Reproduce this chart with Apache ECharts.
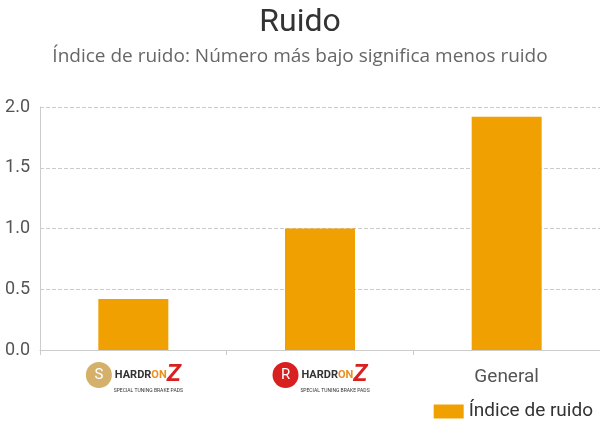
<!DOCTYPE html><html><head><meta charset="utf-8"><script src="https://cdn.jsdelivr.net/npm/echarts@6/dist/echarts.min.js"></script></head><body style="margin:0"><div id="c" style="width:600px;height:430px"></div><script>
const categories=['S','R','General'];
const values=[0.42,1.0,1.92];
const seriesName='Índice de ruido';
const title='Ruido';
const subtitle='Índice de ruido: Número más bajo significa menos ruido';
const chart=echarts.init(document.getElementById('c'));
function logo(v){
  if(v==='General')return '{gen|General}';
  const b=v==='S'?'s':'r';
  return '{'+b+'|'+v+'} {h|HARDR}{o|ON}{z|Z}\n{sp| }{sub|SPECIAL TUNING BRAKE PADS}';
}
chart.setOption({
  animation:false,
  textStyle:{fontFamily:'Roboto, sans-serif'},
  title:{text:title,subtext:subtitle,left:'center',top:2,itemGap:8,
    textStyle:{fontSize:32,fontWeight:'normal',color:'#333'},
    subtextStyle:{fontSize:19,color:'#666',fontFamily:'Open Sans'}},
  legend:{right:2,bottom:4,itemWidth:30,itemHeight:14,icon:'rect',textStyle:{fontSize:19,color:'#333'}},
  grid:{left:40,right:0,top:107,bottom:80},
  xAxis:{type:'category',data:categories,axisTick:{show:true,lineStyle:{color:'#ccc'}},
    axisLine:{lineStyle:{color:'#ccc'}},
    axisLabel:{interval:0,margin:12,formatter:logo,rich:{
      gen:{fontSize:19,color:'#555',padding:[6,0,0,0]},
      s:{backgroundColor:'#d4b06a',color:'#fff',width:26,height:26,borderRadius:13,align:'center',fontSize:15},
      r:{backgroundColor:'#d82020',color:'#fff',width:26,height:26,borderRadius:13,align:'center',fontSize:15},
      h:{fontSize:11,fontWeight:'bold',color:'#333'},
      o:{fontSize:11,fontWeight:'bold',color:'#e89020'},
      z:{fontSize:24,fontWeight:'bold',color:'#d82020',fontStyle:'italic'},
      sp:{width:30,fontSize:4},
      sub:{fontSize:5,color:'#333'}}}},
  yAxis:{type:'value',min:0,max:2,interval:0.5,
    axisLine:{show:true,lineStyle:{color:'#ccc'}},
    axisLabel:{formatter:v=>v.toFixed(1),fontSize:18,color:'#555',margin:10},
    splitLine:{lineStyle:{type:'dashed',color:'#ccc'}}},
  series:[{name:seriesName,type:'bar',data:values,barWidth:70,itemStyle:{color:'#f0a000'}}]
});
</script></body></html>
